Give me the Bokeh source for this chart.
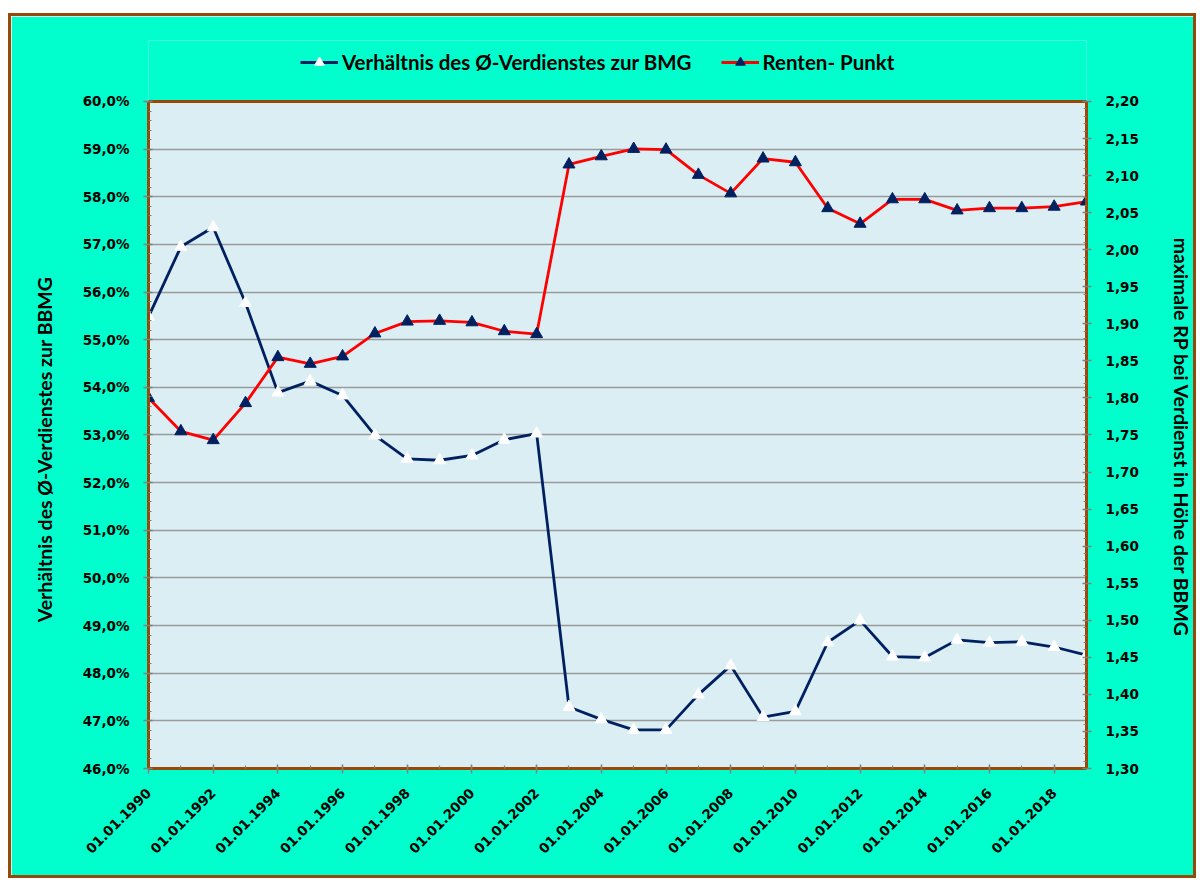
import math
from bokeh.plotting import figure
from bokeh.models import (Range1d, LinearAxis, FixedTicker, CustomJSTickFormatter,
                          Legend, LegendItem, BoxAnnotation)
from bokeh.embed import file_html
from bokeh.resources import INLINE

# ---------------- data ----------------
years = list(range(1990, 2020))
verhaeltnis = [55.48, 56.95, 57.36, 55.77, 53.89, 54.13, 53.83, 52.99, 52.50, 52.47,
               52.57, 52.90, 53.03, 47.29, 47.03, 46.81, 46.81, 47.55, 48.16, 47.08,
               47.20, 48.65, 49.11, 48.35, 48.33, 48.70, 48.64, 48.66, 48.55, 48.38]
renten_punkt = [1.800, 1.755, 1.743, 1.793, 1.855, 1.846, 1.856, 1.887, 1.903, 1.904,
                1.902, 1.890, 1.886, 2.115, 2.126, 2.136, 2.135, 2.101, 2.076, 2.123,
                2.118, 2.056, 2.035, 2.068, 2.068, 2.053, 2.056, 2.056, 2.058, 2.065]
x_ticks = list(range(1990, 2019, 2))
left_ticks = list(range(46, 61))
right_ticks = [round(1.30 + 0.05 * i, 2) for i in range(19)]
left_min, left_max = 46, 60
right_min, right_max = 1.30, 2.20

legend_1 = "Verhältnis des Ø-Verdienstes zur BMG"
legend_2 = "Renten- Punkt"
left_title = "Verhältnis des Ø-Verdienstes zur BBMG"
right_title = "maximale RP bei Verdienst in Höhe der BBMG"

# ---------------- style ----------------
TEAL = "#00FFCC"
PLOT_BG = "#DAEEF3"
BROWN = "#984807"
NAVY = "#002060"
RED = "#FF0000"
GRID = "#9A9A9A"
TICK_FONT = "DejaVu Sans"
TITLE_FONT = "Lato"

# the frame is extended upwards to host the legend; the visible plot area is a box
head = 1.28  # extra room above the plot area, in left-axis units
scale = (right_max - right_min) / (left_max - left_min)

p = figure(width=1188, height=865, output_backend="svg", toolbar_location=None,
           x_range=Range1d(1990, 2019), y_range=Range1d(left_min, left_max + head),
           min_border_left=137, min_border_right=113, min_border_top=24,
           min_border_bottom=113)
p.styles = {"margin-top": "13px", "margin-left": "8px", "border": f"3px solid {BROWN}"}
p.extra_y_ranges = {"rp": Range1d(right_min, right_max + head * scale)}

p.background_fill_color = TEAL
p.background_fill_alpha = 1
p.border_fill_color = TEAL
p.outline_line_color = None

area = BoxAnnotation(left=1990, right=2019, bottom=left_min, top=left_max,
                     fill_color=PLOT_BG, fill_alpha=1, line_color=None, level="image")
p.add_layout(area)

# grid
p.xgrid.grid_line_color = None
p.ygrid.grid_line_color = GRID
p.ygrid.grid_line_width = 1.6

frame_box = BoxAnnotation(left=1990, right=2019, bottom=left_min, top=left_max,
                          fill_alpha=0, line_color=BROWN, line_width=3, line_alpha=1,
                          level="underlay")
p.add_layout(frame_box)

# axes
p.xaxis.ticker = FixedTicker(ticks=x_ticks, minor_ticks=years)
p.xaxis.formatter = CustomJSTickFormatter(code="return '01.01.' + tick.toFixed(0);")
p.xaxis.major_label_orientation = math.pi / 4
p.yaxis.ticker = FixedTicker(ticks=left_ticks,
                             minor_ticks=[46 + 0.2 * i for i in range(71)])
p.yaxis.formatter = CustomJSTickFormatter(
    code="return tick.toFixed(1).replace('.', ',') + '%';")
p.yaxis.bounds = (left_min, left_max)

right_axis = LinearAxis(y_range_name="rp", bounds=(right_min, right_max))
right_axis.ticker = FixedTicker(ticks=right_ticks,
                                minor_ticks=[1.30 + 0.01 * i for i in range(91)])
right_axis.formatter = CustomJSTickFormatter(
    code="return tick.toFixed(2).replace('.', ',');")
p.add_layout(right_axis, "right")

for ax in [p.xaxis[0], p.yaxis[0], right_axis]:
    ax.axis_line_color = BROWN
    ax.axis_line_width = 3
    ax.major_tick_line_color = "#808080"
    ax.major_tick_line_width = 1.5
    ax.minor_tick_line_color = "#808080"
    ax.minor_tick_line_width = 1.2
    ax.major_tick_in = 4
    ax.major_tick_out = 5
    ax.minor_tick_in = 3
    ax.minor_tick_out = 0
    ax.major_label_text_font = TICK_FONT
    ax.major_label_text_font_style = "bold"
    ax.major_label_text_font_size = "13.5px"
    ax.major_label_text_color = "black"
    ax.major_label_standoff = 14
    ax.axis_label_text_font = TITLE_FONT
    ax.axis_label_text_font_style = "bold"
    ax.axis_label_text_font_size = "19.5px"
    ax.axis_label_text_color = "black"
    ax.axis_label_standoff = 24
p.xaxis.major_label_standoff = 17
right_axis.axis_label_standoff = 28

NB = "\u00a0"
p.yaxis.axis_label = left_title + NB * 19
right_axis.axis_label = NB * 14 + right_title

# series
l1 = p.line(years, verhaeltnis, line_color=NAVY, line_width=2.8)
s1 = p.scatter(years, verhaeltnis, marker="triangle", size=12,
               fill_color="white", line_color="white")
l2 = p.line(years, renten_punkt, line_color=RED, line_width=2.8, y_range_name="rp")
s2 = p.scatter(years, renten_punkt, marker="triangle", size=12,
               fill_color=NAVY, line_color=NAVY, y_range_name="rp")

legend = Legend(items=[LegendItem(label=legend_1, renderers=[l1, s1]),
                       LegendItem(label=legend_2, renderers=[l2, s2])],
                location=(152, 694), orientation="horizontal",
                background_fill_alpha=0, border_line_color=None,
                padding=0, margin=0, spacing=29,
                glyph_width=38, glyph_height=24, label_height=24,
                label_standoff=4,
                label_text_font=TITLE_FONT, label_text_font_style="bold",
                label_text_font_size="20.5px", label_text_color="black")
p.add_layout(legend, "center")

html = file_html(p, INLINE)
html = html.replace("<body>", '<body style="background-color:#DCE3EE;">', 1)
open("out.html", "w").write(html)
